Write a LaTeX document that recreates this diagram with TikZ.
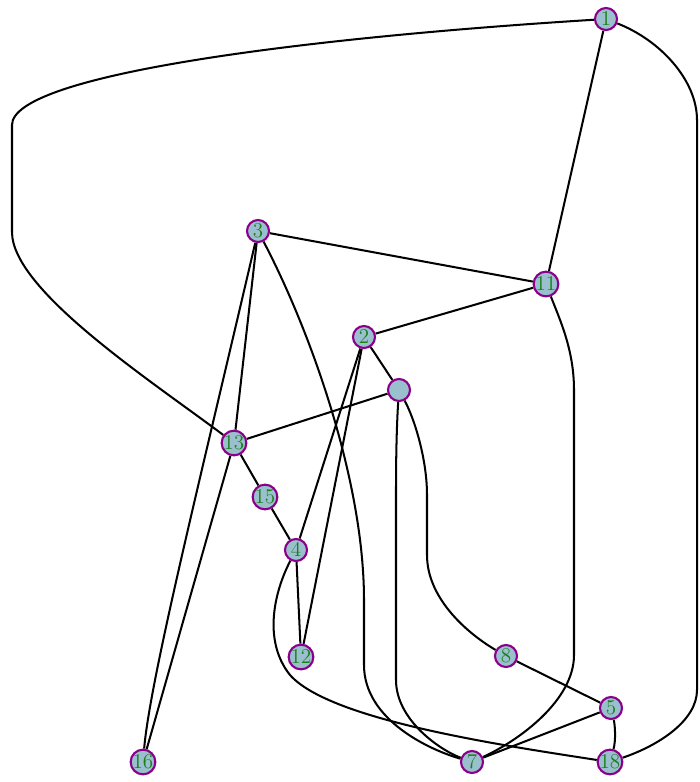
\documentclass[tikz,border=0pt]{standalone}
\usepackage{amsmath,amssymb}
\usepackage{tikz}
\usetikzlibrary{backgrounds}
\definecolor{gfill}{HTML}{9AC0CD}
\definecolor{gring}{HTML}{8B008B}
\definecolor{glabel}{HTML}{1B7F1B}
\tikzset{
  % grafen
  gn/.style={circle,draw=gring,fill=gfill,line width=1.2pt,inner sep=0pt,
             minimum size=4.4mm,text=glabel,font=\fontsize{11.5}{13}\selectfont},
  ge/.style={draw=black,line width=1.15pt},
}
\begin{document}
\begin{tikzpicture}[x=0.2mm,y=-0.2mm]
  \useasboundingbox (0,0) rectangle (700,782);
  \node[gn] (n1)  at (606,19)  {$1$};
  \node[gn] (n3)  at (258,231) {$3$};
  \node[gn] (n11) at (546,284) {$11$};
  \node[gn] (n2)  at (364,337) {$2$};
  \node[gn] (nx)  at (399,390) {};
  \node[gn] (n13) at (234,443) {$13$};
  \node[gn] (n15) at (265,497) {$15$};
  \node[gn] (n4)  at (296,550) {$4$};
  \node[gn] (n12) at (301,657) {$12$};
  \node[gn] (n8)  at (506,656) {$8$};
  \node[gn] (n5)  at (611,708) {$5$};
  \node[gn] (n7)  at (472,762) {$7$};
  \node[gn] (n18) at (610,762) {$18$};
  \node[gn] (n16) at (143,762) {$16$};
  \begin{scope}[on background layer]
  \draw[ge] (n1) .. controls (300,38) and (12,75) .. (12,125) -- (12,232)
            .. controls (12,290) and (150,380) .. (n13);
  \draw[ge] (n1) -- (n11);
  \draw[ge] (n1) .. controls (660,40) and (697,80) .. (697,120) -- (697,690)
            .. controls (697,720) and (660,745) .. (n18);
  \draw[ge] (n3) -- (n11);
  \draw[ge] (n3) -- (n13);
  \draw[ge] (n3) .. controls (200,480) and (150,680) .. (n16);
  \draw[ge] (n3) .. controls (310,330) and (364,480) .. (364,600) -- (364,665)
            .. controls (364,720) and (430,750) .. (n7);
  \draw[ge] (n11) -- (n2);
  \draw[ge] (n11) .. controls (560,320) and (574,350) .. (574,390) -- (574,655)
            .. controls (574,700) and (520,740) .. (n7);
  \draw[ge] (n2) -- (nx);
  \draw[ge] (n2) -- (n4);
  \draw[ge] (n2) -- (n12);
  \draw[ge] (nx) -- (n13);
  \draw[ge] (nx) .. controls (397,420) and (396,450) .. (396,490) -- (396,680)
            .. controls (396,720) and (440,750) .. (n7);
  \draw[ge] (nx) .. controls (415,420) and (427,460) .. (427,495) -- (427,555)
            .. controls (427,600) and (470,635) .. (n8);
  \draw[ge] (n13) -- (n15);
  \draw[ge] (n13) -- (n16);
  \draw[ge] (n15) -- (n4);
  \draw[ge] (n4) -- (n12);
  \draw[ge] (n4) .. controls (275,590) and (262,640) .. (290,675)
            .. controls (330,720) and (500,745) .. (n18);
  \draw[ge] (n8) -- (n5);
  \draw[ge] (n5) -- (n7);
  \draw[ge] (n5) .. controls (615,725) and (616,740) .. (n18);
  \end{scope}
\end{tikzpicture}
\end{document}
